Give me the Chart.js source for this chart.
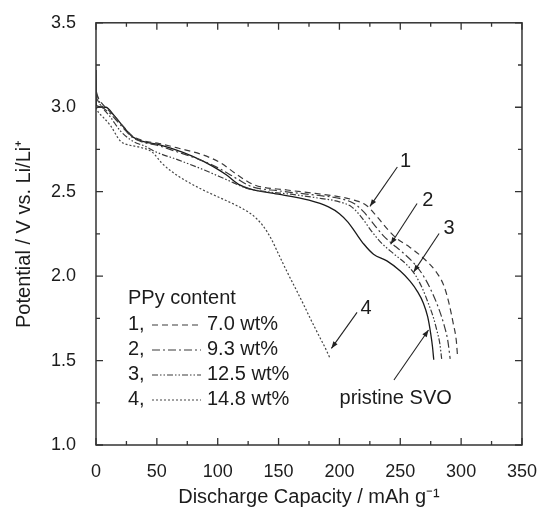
<!DOCTYPE html>
<html>
<head>
<meta charset="utf-8">
<script src="https://cdn.jsdelivr.net/npm/chart.js@4.4.1/dist/chart.umd.min.js"></script>
<style>
  html, body { margin: 0; padding: 0; background: #fff; }
  #wrap { width: 545px; height: 507px; position: relative; }
</style>
</head>
<body>
<div id="wrap"><canvas id="c" width="545" height="507"></canvas></div>
<script>
// ---------- data ----------
const capPristine = [0, 0.3, 8, 15, 23, 30, 40, 51, 62, 79, 96, 107, 118, 127, 146, 175, 191, 200, 207, 213, 220, 228, 239, 250, 258, 264, 269, 272.5, 275, 276.5, 277.5];
const potPristine = [3.22, 3.01, 3.0, 2.95, 2.88, 2.825, 2.795, 2.78, 2.756, 2.71, 2.65, 2.60, 2.54, 2.515, 2.49, 2.45, 2.41, 2.37, 2.32, 2.26, 2.19, 2.13, 2.09, 2.03, 1.97, 1.91, 1.84, 1.76, 1.66, 1.58, 1.505];

const cap1 = [0, 3, 12, 22, 30, 40, 52, 68, 87, 103, 116, 130, 157, 180, 200, 212, 222, 230, 238, 246, 258, 270, 280, 286, 290, 293.5, 296, 297];
const pot1 = [3.08, 3.04, 2.97, 2.89, 2.83, 2.80, 2.785, 2.757, 2.72, 2.668, 2.60, 2.54, 2.51, 2.49, 2.47, 2.45, 2.42, 2.36, 2.29, 2.23, 2.17, 2.10, 2.02, 1.94, 1.84, 1.72, 1.62, 1.53];

const cap2 = [0, 3, 12, 22, 30, 40, 50, 65, 85, 102, 115, 128, 150, 180, 200, 212, 220, 228, 236, 242, 252, 262, 270, 277, 282, 286, 289, 291];
const pot2 = [3.10, 3.03, 2.96, 2.88, 2.82, 2.79, 2.775, 2.74, 2.69, 2.635, 2.58, 2.53, 2.505, 2.48, 2.46, 2.43, 2.38, 2.31, 2.24, 2.20, 2.14, 2.07, 1.99, 1.89, 1.80, 1.71, 1.62, 1.51];

const cap3 = [0, 3, 12, 20, 30, 40, 49, 68, 89, 108, 124, 140, 160, 180, 200, 210, 218, 226, 234, 245, 255, 262, 268, 273, 277, 280, 282.5, 284];
const pot3 = [3.06, 3.02, 2.94, 2.86, 2.80, 2.77, 2.736, 2.687, 2.628, 2.569, 2.52, 2.50, 2.485, 2.465, 2.44, 2.41, 2.35, 2.27, 2.20, 2.13, 2.07, 2.01, 1.93, 1.84, 1.76, 1.68, 1.60, 1.51];

const cap4 = [0, 2, 6, 12, 20, 28, 35, 46, 54, 62, 75, 88, 100, 115, 125, 132, 138, 144, 150, 156, 163, 170, 176, 183, 188, 192.5];
const pot4 = [3.0, 2.97, 2.94, 2.89, 2.80, 2.775, 2.765, 2.735, 2.67, 2.62, 2.56, 2.51, 2.47, 2.42, 2.38, 2.34, 2.29, 2.22, 2.13, 2.04, 1.94, 1.84, 1.75, 1.65, 1.58, 1.51];

const seriesNames = ['7.0 wt%', '9.3 wt%', '12.5 wt%', '14.8 wt%'];
const seriesNumbers = ['1,', '2,', '3,', '4,'];
const legendTitle = 'PPy content';

const xTickValues = [0, 50, 100, 150, 200, 250, 300, 350];
const yTickValues = [1.0, 1.5, 2.0, 2.5, 3.0, 3.5];

// annotation labels and arrows in data coordinates
const annotationTexts = ['1', '2', '3', '4', 'pristine SVO'];
const annotationLabelAt = [[254.3, 2.676], [272.7, 2.449], [290, 2.282], [221.8, 1.809], [246.2, 1.278]];
const arrowFrom = [[247.6, 2.646], [263.8, 2.430], [281.9, 2.252], [214.5, 1.785], [244.8, 1.385]];
const arrowTo   = [[225.1, 2.413], [242.1, 2.189], [261.0, 2.025], [193.4, 1.572], [273.2, 1.681]];

// ---------- build ----------
const FONT = "'Liberation Sans', Arial, Helvetica, sans-serif";
const TXT = '#1c1c1c';
function pts(xs, ys) { return xs.map((x, i) => ({ x: x, y: ys[i] })); }

const styles = [
  { dash: [6, 4], color: '#3a3a3a' },
  { dash: [8, 3, 2, 3], color: '#3a3a3a' },
  { dash: [6, 2, 1.5, 2, 1.5, 2], color: '#3a3a3a' },
  { dash: [2, 2], color: '#444' }
];
const caps = [cap1, cap2, cap3, cap4];
const pots = [pot1, pot2, pot3, pot4];

const datasets = caps.map((c, i) => ({
  label: seriesNames[i],
  data: pts(c, pots[i]),
  borderColor: styles[i].color,
  borderDash: styles[i].dash,
  borderWidth: 1.2,
  pointRadius: 0,
  showLine: true,
  fill: false,
  cubicInterpolationMode: 'monotone'
}));
datasets.push({
  label: 'pristine SVO',
  data: pts(capPristine, potPristine),
  borderColor: '#1a1a1a',
  borderWidth: 1.3,
  pointRadius: 0,
  showLine: true,
  fill: false,
  cubicInterpolationMode: 'monotone'
});

const frameTicks = {
  id: 'frameTicks',
  afterDraw(chart) {
    const ctx = chart.ctx;
    const { left, right, top, bottom } = chart.chartArea;
    const x = chart.scales.x, y = chart.scales.y;
    ctx.save();
    ctx.strokeStyle = '#333';
    ctx.lineWidth = 1.5;
    ctx.strokeRect(left, top, right - left, bottom - top);
    ctx.lineWidth = 1.3;
    ctx.beginPath();
    for (let v = 0; v <= 350; v += 25) {
      const p = x.getPixelForValue(v);
      const len = (v % 50 === 0) ? 7 : 4;
      ctx.moveTo(p, bottom); ctx.lineTo(p, bottom - len);
      ctx.moveTo(p, top); ctx.lineTo(p, top + len);
    }
    for (let k = 0; k <= 10; k++) {
      const v = 1 + k * 0.25;
      const p = y.getPixelForValue(v);
      const len = (k % 2 === 0) ? 7 : 4;
      ctx.moveTo(left, p); ctx.lineTo(left + len, p);
      ctx.moveTo(right, p); ctx.lineTo(right - len, p);
    }
    ctx.stroke();
    ctx.restore();
  }
};

const legendAndNotes = {
  id: 'legendAndNotes',
  afterDraw(chart) {
    const ctx = chart.ctx;
    const x = chart.scales.x, y = chart.scales.y;
    ctx.save();
    ctx.fillStyle = TXT;
    ctx.font = '20px ' + FONT;
    ctx.textBaseline = 'middle';
    ctx.textAlign = 'left';
    // legend
    ctx.fillText(legendTitle, 128, 298);
    for (let i = 0; i < 4; i++) {
      const cy = 324 + i * 25;
      ctx.fillStyle = TXT;
      ctx.fillText(seriesNumbers[i], 128, cy);
      ctx.fillText(seriesNames[i], 207, cy);
      ctx.beginPath();
      ctx.setLineDash(styles[i].dash);
      ctx.strokeStyle = styles[i].color;
      ctx.lineWidth = 1.1;
      ctx.moveTo(152, cy + 1);
      ctx.lineTo(201, cy + 1);
      ctx.stroke();
    }
    ctx.setLineDash([]);
    // annotations
    ctx.textAlign = 'center';
    ctx.fillStyle = TXT;
    for (let i = 0; i < annotationTexts.length; i++) {
      const lx = x.getPixelForValue(annotationLabelAt[i][0]);
      const ly = y.getPixelForValue(annotationLabelAt[i][1]);
      ctx.fillText(annotationTexts[i], lx, ly);
      const x0 = x.getPixelForValue(arrowFrom[i][0]), y0 = y.getPixelForValue(arrowFrom[i][1]);
      const x1 = x.getPixelForValue(arrowTo[i][0]), y1 = y.getPixelForValue(arrowTo[i][1]);
      ctx.strokeStyle = '#222';
      ctx.lineWidth = 1.1;
      ctx.beginPath(); ctx.moveTo(x0, y0); ctx.lineTo(x1, y1); ctx.stroke();
      const ang = Math.atan2(y1 - y0, x1 - x0);
      const hl = 7, hw = 2.6;
      ctx.beginPath();
      ctx.moveTo(x1, y1);
      ctx.lineTo(x1 - hl * Math.cos(ang) + hw * Math.sin(ang), y1 - hl * Math.sin(ang) - hw * Math.cos(ang));
      ctx.lineTo(x1 - hl * Math.cos(ang) - hw * Math.sin(ang), y1 - hl * Math.sin(ang) + hw * Math.cos(ang));
      ctx.closePath();
      ctx.fillStyle = '#222';
      ctx.fill();
      ctx.fillStyle = TXT;
    }
    ctx.restore();
  }
};

new Chart(document.getElementById('c'), {
  type: 'scatter',
  data: { datasets: datasets },
  options: {
    responsive: false,
    animation: false,
    devicePixelRatio: 1,
    layout: { padding: { top: 22, right: 17, left: 0, bottom: 0 } },
    plugins: { legend: { display: false }, tooltip: { enabled: false } },
    scales: {
      x: {
        type: 'linear', min: 0, max: 350,
        afterBuildTicks: (s) => { s.ticks = xTickValues.map(v => ({ value: v })); },
        afterFit: (s) => { s.height = 62; },
        grid: { display: false },
        border: { display: false },
        ticks: { color: TXT, padding: 8, font: { family: FONT, size: 18 }, maxRotation: 0, callback: (v) => String(v) },
        title: { display: true, text: 'Discharge Capacity / mAh g\u207B\u00B9', color: TXT, font: { family: FONT, size: 20, lineHeight: 1 }, padding: { top: 0, bottom: 0 } }
      },
      y: {
        type: 'linear', min: 1.0, max: 3.5,
        afterBuildTicks: (s) => { s.ticks = yTickValues.map(v => ({ value: v })); },
        afterFit: (s) => { s.width = 96; },
        grid: { display: false },
        border: { display: false },
        ticks: { color: TXT, padding: 12, font: { family: FONT, size: 18 }, callback: (v) => Number(v).toFixed(1) },
        title: { display: true, text: 'Potential / V vs. Li/Li\u207A', color: TXT, font: { family: FONT, size: 20, lineHeight: 1 }, padding: { top: 14, bottom: 0 } }
      }
    }
  },
  plugins: [frameTicks, legendAndNotes]
});
</script>
</body>
</html>
